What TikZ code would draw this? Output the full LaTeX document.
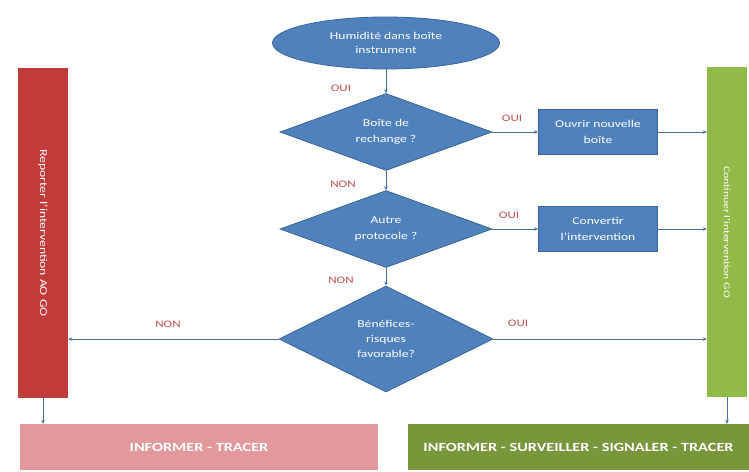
\documentclass[tikz,border=0pt]{standalone}
\usepackage{fontspec}
\setmainfont{Carlito}[FakeStretch=1.3]
\usetikzlibrary{shapes.geometric,arrows.meta}
\definecolor{flowblue}{HTML}{4F81BD}
\definecolor{flowblueedge}{HTML}{3A6596}
\definecolor{linecol}{HTML}{4A6E9C}
\definecolor{labred}{HTML}{C0504D}
\definecolor{barred}{HTML}{C23B3B}
\definecolor{bargreen}{HTML}{92BA48}
\definecolor{boxpink}{HTML}{E3999B}
\definecolor{boxgreen}{HTML}{78963A}
\begin{document}
\begin{tikzpicture}[x=1pt,y=-1pt,
  txt/.style={text=white,font=\fontsize{10.5}{16}\selectfont,align=center},
  ell/.style={ellipse,fill=flowblue,draw=flowblueedge,line width=0.8pt,minimum width=227,minimum height=52,inner sep=0pt,text=white,font=\fontsize{10.5}{13.5}\selectfont,align=center},
  dia/.style={diamond,fill=flowblue,draw=flowblueedge,line width=0.8pt,inner sep=0pt,aspect=3,txt},
  actbox/.style={rectangle,fill=flowblue,draw=flowblueedge,line width=0.8pt,minimum width=119,minimum height=45,inner sep=1pt,txt},
  bar/.style={rectangle,draw=none,inner sep=0pt,minimum height=330},
  bottombox/.style={rectangle,draw=none,inner sep=0pt,minimum height=46,text=white,font=\fontsize{12.5}{14}\selectfont\bfseries},
  conn/.style={draw=linecol,line width=0.8pt,-{Stealth[length=4pt,width=3.5pt]}},
  lab/.style={text=labred,font=\fontsize{10}{11}\selectfont}]
\useasboundingbox (0,0) rectangle (749,471);
\fill[white] (0,0) rectangle (749,471);

\node[ell] (e) at (386,43) {Humidité dans boîte\\instrument};
\node[dia,minimum width=212,minimum height=77] (d1) at (386,132) {Boîte de\\rechange ?};
\node[dia,minimum width=212,minimum height=77] (d2) at (386,229) {Autre\\protocole ?};
\node[dia,minimum width=214,minimum height=106,font=\fontsize{10.5}{15}\selectfont] (d3) at (386,339) {Bénéfices-\\risques\\favorable?};
\node[actbox] (r1) at (598,132) {Ouvrir nouvelle\\boîte};
\node[actbox] (r2) at (598,229) {Convertir\\l'intervention};

\node[bar,fill=barred,minimum width=50] (rb) at (43,233) {};
\node[rotate=-90,text=white,font=\fontsize{10.5}{12}\selectfont] at (rb.center) {Reporter l'intervention AO GO};
\node[bar,fill=bargreen,minimum width=40] (gb) at (727,232) {};
\node[rotate=-90,text=white,font=\fontsize{9}{11}\selectfont] at (gb.center) {Continuer l'intervention GO};

\node[bottombox,fill=boxpink,minimum width=358] (pb) at (199,447) {INFORMER - TRACER};
\node[bottombox,fill=boxgreen,minimum width=341] (gbx) at (578.5,447) {INFORMER - SURVEILLER - SIGNALER - TRACER};

\draw[conn] (e.south) -- (d1.north);
\draw[conn] (d1.south) -- (d2.north);
\draw[conn] (d2.south) -- (d3.north);
\draw[conn] (d1.east) -- (r1.west);
\draw[conn] (d2.east) -- (r2.west);
\draw[conn] (r1.east) -- (r1.east -| gb.west);
\draw[conn] (r2.east) -- (r2.east -| gb.west);
\draw[conn] (d3.east) -- (d3.east -| gb.west);
\draw[conn] (d3.west) -- (d3.west -| rb.east);
\draw[conn] (rb.south) -- (rb.south |- pb.north);
\draw[conn] (gb.south) -- (gb.south |- gbx.north);

\node[lab] at (341,88) {OUI};
\node[lab] at (512,118) {OUI};
\node[lab] at (343,184) {NON};
\node[lab] at (509,215) {OUI};
\node[lab] at (341,280) {NON};
\node[lab] at (518,323) {OUI};
\node[lab] at (168,324) {NON};
\end{tikzpicture}
\end{document}
